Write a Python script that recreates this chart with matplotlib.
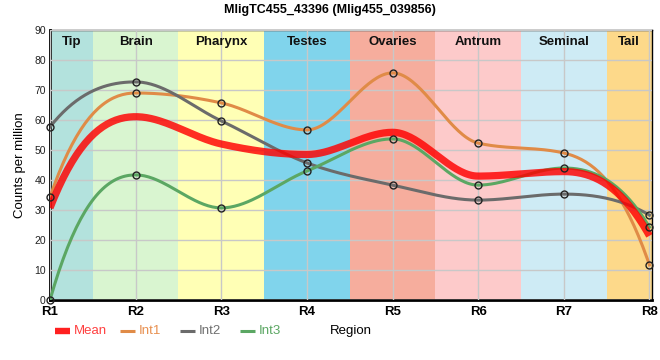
import matplotlib.pyplot as plt
import numpy as np
from matplotlib.lines import Line2D

plt.rcParams["font.family"] = ["Liberation Sans", "DejaVu Sans"]

regions = ["R1", "R2", "R3", "R4", "R5", "R6", "R7", "R8"]
tissues = ["Tip", "Brain", "Pharynx", "Testes", "Ovaries", "Antrum", "Seminal", "Tail"]
tissue_colors = ["#b3e2dd", "#d9f5d0", "#ffffb5", "#80d4ec", "#f6ad9d",
                 "#fdcaca", "#ceebf5", "#fdd98a"]

mean = [30.7, 61.1, 52.0, 48.5, 55.9, 41.3, 42.8, 21.4]
int1 = [34.3, 69.0, 65.7, 56.7, 75.7, 52.3, 49.0, 11.7]
int2 = [57.7, 72.7, 59.7, 45.7, 38.3, 33.3, 35.3, 28.3]
int3 = [0.0, 41.7, 30.7, 43.0, 53.7, 38.3, 44.0, 24.3]


def smooth(x, y, n=40):
    # monotone cubic hermite, steeper end tangents
    x = np.asarray(x, float)
    y = np.asarray(y, float)
    h = np.diff(x)
    s = np.diff(y) / h
    t = np.zeros_like(y)
    for i in range(1, len(y) - 1):
        if s[i - 1] * s[i] > 0:
            p = (s[i - 1] * h[i] + s[i] * h[i - 1]) / (h[i - 1] + h[i])
            t[i] = np.sign(s[i - 1]) * min(abs(s[i - 1]), abs(s[i]), 0.5 * abs(p)) * 2
    t[0] = 2.4 * s[0] - t[1]
    t[-1] = 2.4 * s[-1] - t[-2]
    t[0] = np.sign(s[0]) * min(abs(t[0]), 3 * abs(s[0]))
    t[-1] = np.sign(s[-1]) * min(abs(t[-1]), 3 * abs(s[-1]))
    xs, ys = [], []
    for i in range(len(h)):
        u = np.linspace(0, 1, n)
        h00 = 2 * u**3 - 3 * u**2 + 1
        h10 = u**3 - 2 * u**2 + u
        h01 = -2 * u**3 + 3 * u**2
        h11 = u**3 - u**2
        xs.append(x[i] + u * h[i])
        ys.append(h00 * y[i] + h10 * h[i] * t[i] + h01 * y[i + 1] + h11 * h[i] * t[i + 1])
    return np.concatenate(xs), np.concatenate(ys)


fig = plt.figure(figsize=(6.6, 3.6), dpi=100)
ax = fig.add_axes([50 / 660, 60 / 360, 602 / 660, 270 / 360])

x = np.arange(len(regions))
for i, c in enumerate(tissue_colors):
    lo = max(i - 0.5, 0)
    hi = min(i + 0.5, len(regions) - 1 + 0.03)
    ax.axvspan(lo, hi, color=c, lw=0, zorder=0)
    ax.text((lo + hi) / 2, 86, tissues[i], ha="center", va="center",
            fontsize=9.5, fontweight="bold", color="#111111", zorder=5)

ax.grid(True, color="#c8c8c8", lw=1, zorder=1)
ax.set_axisbelow(False)

series = [("Int1", int1, "#e08b47"), ("Int2", int2, "#6b6b6b"), ("Int3", int3, "#5ba763")]
for name, vals, col in series:
    xs, ys = smooth(x, vals)
    ax.plot(xs, ys, color=col, lw=2.2, zorder=3)
xs, ys = smooth(x, mean)
ax.plot(xs, ys, color="#ff0000", alpha=0.82, lw=5.2, zorder=4, solid_capstyle="butt")
for name, vals, col in series:
    ax.plot(x, vals, "o", ms=5, mfc="none", mec="#222222", mew=1, zorder=6, clip_on=False)

ax.set_xlim(0, 7.03)
ax.set_ylim(0, 90)
ax.set_yticks(range(0, 91, 10))
ax.set_xticks(x)
ax.set_xticklabels(regions, fontweight="bold", fontsize=9.5)
ax.tick_params(axis="y", labelsize=7.5, labelcolor="#222222", length=0, pad=3)
ax.tick_params(axis="x", length=0, pad=4)
for sp in ["left", "bottom"]:
    ax.spines[sp].set_linewidth(2)
for sp in ["top", "right"]:
    ax.spines[sp].set_linewidth(1)
ax.set_ylabel("Counts per million", fontsize=9.5, labelpad=6)

fig.text(330 / 660, 1 - 10 / 360, "MligTC455_43396 (Mlig455_039856)", ha="center",
         va="center", fontsize=9, fontweight="bold")
fig.text(351 / 660, 1 - 331 / 360, "Region", ha="center", va="center", fontsize=9.5)

# legend drawn by hand along the bottom row
leg_labels = ["Mean", "Int1", "Int2", "Int3"]
leg_colors = ["#ff2020", "#e08b47", "#6b6b6b", "#5ba763"]
leg_text_colors = ["#ff4040", "#e89050", "#707070", "#5ba763"]
leg_widths = [4.6, 2.2, 2.2, 2.2]
leg_x = [55, 120, 180, 240]
ly = 1 - 331 / 360
for lab, c, tc, w, lx in zip(leg_labels, leg_colors, leg_text_colors, leg_widths, leg_x):
    fig.add_artist(Line2D([lx / 660, (lx + 15) / 660], [ly, ly], color=c, lw=w,
                          solid_capstyle="butt", transform=fig.transFigure))
    fig.text((lx + 19) / 660, ly, lab, ha="left", va="center", fontsize=9.5, color=tc)

fig.savefig("out.png", dpi=100)
